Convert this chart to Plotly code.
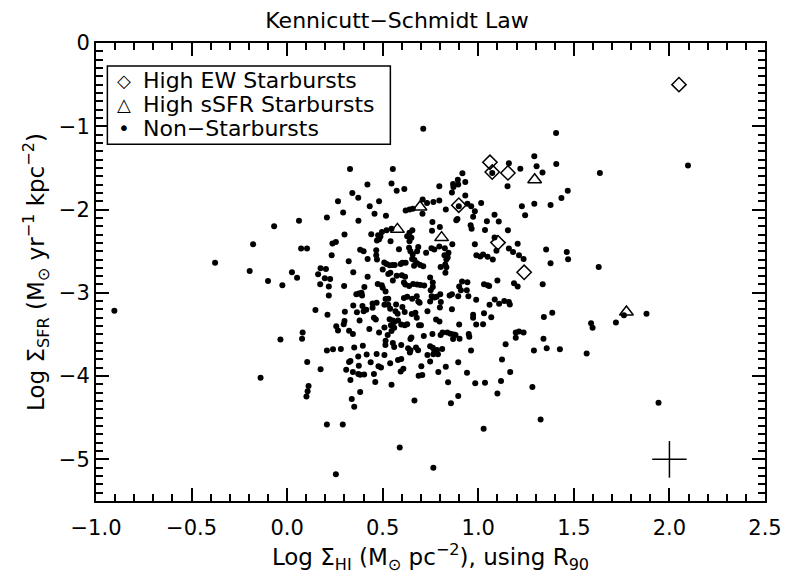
import plotly.graph_objects as go

# High EW starbursts (diamonds)
ew_x = [2.05, 1.061, 1.073, 1.155, 0.898, 1.103, 1.24]
ew_y = [-0.50, -1.432, -1.55, -1.56, -1.948, -2.397, -2.754]

# High sSFR starbursts (triangles)
ss_x = [1.295, 0.695, 0.577, 0.808, 1.775]
ss_y = [-1.643, -1.97, -2.238, -2.337, -3.23]

# Non-starbursts (dots)
ns_pts = [
    (0.712, -1.03), (1.407, -1.08), (2.097, -1.47),
    (1.636, -1.56), (1.468, -1.775), (1.463, -2.51), (1.47, -2.598), (1.63, -2.69),
    (1.59, -3.365), (1.598, -3.42), (1.72, -3.357), (1.762, -3.27), (1.88, -3.25),
    (1.567, -3.73), (1.943, -4.32), (1.326, -4.52),
    (1.16, -1.444), (1.22, -1.51), (1.293, -1.361), (1.305, -1.48), (1.408, -1.452),
    (1.336, -1.556), (1.073, -1.56), (1.153, -1.72), (1.435, -1.86), (1.378, -1.944),
    (1.293, -1.93), (1.228, -1.96), (1.245, -2.07), (0.917, -1.563), (0.893, -1.643),
    (0.895, -1.70), (0.868, -1.694), (0.87, -1.73), (0.862, -1.794), (0.932, -1.67),
    (0.796, -1.72), (0.932, -1.83), (0.613, -1.754), (0.898, -1.96), (0.943, -1.93),
    (0.963, -1.96), (1.015, -1.92), (0.982, -2.02), (0.973, -2.087), (0.96, -2.19),
    (0.965, -2.23), (0.891, -2.115), (0.885, -2.13), (0.83, -2.0), (0.796, -1.89),
    (0.765, -1.908), (0.732, -1.92), (0.709, -1.88), (0.708, -2.05), (0.657, -1.99),
    (0.62, -2.01), (0.64, -2.0), (0.76, -2.15), (0.799, -2.21), (0.758, -2.254),
    (0.655, -2.25), (0.64, -2.28), (0.628, -2.32), (0.65, -2.34), (0.64, -2.38),
    (0.585, -2.476), (0.638, -2.46), (0.645, -2.5), (0.657, -2.54), (0.654, -2.595),
    (0.686, -2.45), (0.68, -2.5), (0.755, -2.464), (0.77, -2.48), (0.796, -2.444),
    (0.825, -2.464), (0.727, -2.52), (0.823, -2.55), (0.844, -2.52), (0.864, -2.417),
    (0.833, -2.6), (0.84, -2.575), (0.603, -2.64), (0.62, -2.64), (0.594, -2.655),
    (0.666, -2.607), (0.68, -2.646), (0.696, -2.667), (0.712, -2.68), (0.664, -2.675),
    (0.803, -2.69), (0.827, -2.66), (0.833, -2.694), (0.828, -2.76), (0.982, -2.417),
    (0.99, -2.55), (1.01, -2.563), (1.025, -2.54), (1.049, -2.568), (1.076, -2.6),
    (1.085, -2.337), (1.095, -2.496), (1.035, -2.246), (1.045, -2.14), (1.085, -2.063),
    (1.107, -2.143), (1.155, -2.25), (1.16, -2.468), (1.182, -2.51), (1.206, -2.41),
    (1.213, -2.55), (1.237, -2.595), (1.355, -2.48), (1.378, -2.646), (1.337, -2.897),
    (1.187, -2.885), (1.206, -2.925), (1.10, -2.853), (1.03, -2.897), (1.049, -2.91),
    (1.057, -2.917), (0.915, -2.865), (0.943, -2.873), (0.90, -2.925), (0.748, -2.817),
    (0.762, -2.877), (0.762, -2.93), (0.717, -2.913), (0.697, -2.905), (0.68, -2.9),
    (0.659, -2.893), (0.638, -2.917), (0.618, -2.9), (0.611, -2.877),
    (0.329, -1.512), (0.553, -1.512), (0.42, -1.70), (0.546, -1.687), (0.573, -1.774),
    (0.341, -1.80), (0.372, -1.857), (0.266, -1.90), (0.481, -1.90), (0.432, -1.96),
    (0.293, -2.036), (0.457, -2.05), (0.517, -2.075), (0.062, -2.135), (0.208, -2.095),
    (0.373, -2.135), (-0.068, -2.2), (0.30, -2.30), (0.44, -2.298), (0.52, -2.25),
    (0.546, -2.23), (0.496, -2.27), (0.476, -2.31), (0.481, -2.357), (0.47, -2.373),
    (0.488, -2.325), (0.541, -2.38), (0.237, -2.408), (0.255, -2.39), (-0.178, -2.417),
    (0.073, -2.468), (0.104, -2.468), (0.233, -2.548), (0.382, -2.484), (0.40, -2.50),
    (0.466, -2.488), (0.322, -2.62), (0.421, -2.595), (0.466, -2.548), (0.47, -2.6),
    (0.508, -2.635), (0.52, -2.655), (0.536, -2.67), (0.553, -2.667), (0.563, -2.667),
    (-0.196, -2.738), (-0.10, -2.857), (-0.025, -2.908), (0.025, -2.754), (0.052, -2.82),
    (0.175, -2.706), (0.203, -2.714), (0.162, -2.777), (0.197, -2.825), (0.225, -2.833),
    (0.173, -2.897), (0.218, -2.925), (0.346, -2.754), (0.421, -2.806), (0.298, -2.917),
    (0.404, -2.929), (0.474, -2.893), (0.495, -2.908), (0.50, -2.94), (0.50, -2.72),
    (0.529, -2.774), (0.54, -2.758), (0.553, -2.853), (0.573, -2.794), (0.60, -2.79),
    (0.617, -2.806),
    (-0.377, -2.639), (-0.904, -3.214),
    (0.218, -3.032), (0.362, -3.016), (0.375, -3.008), (0.389, -3.0), (0.392, -3.032),
    (0.515, -2.984), (0.148, -3.206), (0.211, -3.262), (0.302, -3.226), (0.346, -3.151),
    (0.365, -3.234), (0.394, -3.159), (0.40, -3.222), (0.414, -3.202), (0.447, -3.127),
    (0.468, -3.119), (0.447, -3.179), (0.515, -3.075), (0.529, -3.071), (0.509, -3.143),
    (0.529, -3.143), (0.539, -3.19), (0.57, -3.139), (0.567, -3.222), (0.578, -3.25),
    (0.30, -3.337), (0.257, -3.40), (0.266, -3.452), (0.296, -3.377), (0.324, -3.456),
    (0.344, -3.496), (0.379, -3.333), (0.454, -3.298), (0.464, -3.321), (0.43, -3.433),
    (0.481, -3.476), (0.509, -3.417), (0.536, -3.317), (0.553, -3.333), (0.543, -3.39),
    (0.56, -3.35), (0.58, -3.333), (0.56, -3.42), (0.546, -3.46), (0.526, -3.508),
    (0.515, -3.575), (0.514, -3.627), (0.597, -3.38), (-0.035, -3.56), (0.081, -3.476),
    (0.078, -3.551), (0.208, -3.694), (0.24, -3.679), (0.281, -3.675), (0.351, -3.658),
    (0.396, -3.635), (0.372, -3.766), (0.416, -3.742), (0.468, -3.734), (0.509, -3.746),
    (0.553, -3.603), (0.56, -3.65), (0.597, -3.627), (0.105, -3.83), (0.175, -3.917),
    (0.324, -3.83), (0.331, -3.818), (0.309, -3.925), (0.344, -3.952), (0.375, -3.877),
    (0.372, -3.976), (0.382, -3.984), (0.403, -3.98), (0.437, -3.833), (0.478, -3.881),
    (0.491, -3.897), (0.454, -3.976), (0.461, -4.071), (0.331, -4.048), (0.539, -3.845),
    (0.58, -3.806), (0.597, -3.794), (0.594, -3.944), (0.608, -3.913), (0.546, -4.103),
    (0.112, -4.119), (0.107, -4.183), (0.101, -4.246), (-0.139, -4.02), (0.382, -4.19),
    (0.338, -4.274), (0.351, -4.369), (0.208, -4.58), (0.291, -4.58),
    (0.751, -2.968), (0.801, -3.016), (0.85, -3.032), (0.862, -3.016), (0.909, -2.968),
    (0.94, -2.968), (0.895, -3.04), (0.948, -3.04), (0.611, -3.063), (0.628, -3.048),
    (0.654, -3.071), (0.678, -3.04), (0.686, -3.103), (0.693, -3.119), (0.756, -3.04),
    (0.77, -3.056), (0.782, -3.048), (0.748, -3.103), (0.804, -3.111), (0.799, -3.175),
    (0.603, -3.17), (0.615, -3.23), (0.652, -3.254), (0.671, -3.238), (0.678, -3.298),
    (0.69, -3.389), (0.70, -3.389), (0.734, -3.222), (0.615, -3.389), (0.628, -3.377),
    (0.862, -3.198), (0.779, -3.321), (0.797, -3.345), (0.90, -3.38), (0.989, -3.083),
    (1.059, -3.143), (1.086, -3.08), (1.109, -3.131), (1.136, -3.099), (1.16, -3.111),
    (1.165, -3.139), (1.03, -3.246), (1.068, -3.294), (0.973, -3.262), (0.973, -3.30),
    (0.989, -3.381), (1.025, -3.377), (0.715, -3.52), (0.76, -3.496), (0.803, -3.508),
    (0.813, -3.476), (0.838, -3.476), (0.855, -3.492), (0.873, -3.50), (0.881, -3.508),
    (0.902, -3.551), (0.868, -3.556), (0.95, -3.496), (0.953, -3.528), (0.65, -3.536),
    (0.645, -3.556), (0.633, -3.667), (0.645, -3.69), (0.642, -3.718), (0.674, -3.658),
    (0.685, -3.69), (0.748, -3.643), (0.762, -3.659), (0.77, -3.694), (0.784, -3.687),
    (0.789, -3.738), (0.765, -3.738), (0.734, -3.746), (0.811, -3.675), (0.702, -3.881),
    (0.748, -3.825), (0.688, -3.996), (0.707, -3.988), (0.791, -3.952), (0.83, -3.889),
    (0.895, -3.833), (0.962, -3.694), (0.941, -3.96), (0.842, -4.075), (0.984, -4.087),
    (1.035, -4.079), (0.666, -4.294), (0.857, -4.325), (0.895, -4.238), (1.028, -4.631),
    (1.10, -4.21), (1.119, -4.06), (1.167, -3.952), (1.124, -3.80), (1.143, -3.619),
    (1.283, -4.131), (1.291, -3.694), (1.358, -3.667), (1.427, -3.679), (1.341, -3.551),
    (1.196, -3.476), (1.213, -3.464), (1.237, -3.476), (1.196, -3.54), (1.343, -3.29),
    (1.387, -3.238),
    (0.589, -4.857), (0.765, -5.10), (0.255, -5.179),
]
ns_x = [p[0] for p in ns_pts]
ns_y = [p[1] for p in ns_pts]

# typical error bar
err_x = [2.0]
err_y = [-5.0]
err_dx = [0.09]
err_dy = [0.22]

x_ticks = [-1.0, -0.5, 0.0, 0.5, 1.0, 1.5, 2.0, 2.5]
y_ticks = [0, -1, -2, -3, -4, -5]

legend_labels = ["High EW Starbursts", "High sSFR Starbursts", "Non−Starbursts"]
legend_glyphs = ["◇", "△", "•"]

FONT = "DejaVu Sans"

fig = go.Figure()
fig.add_trace(go.Scatter(
    x=ns_x, y=ns_y, mode="markers", name=legend_labels[2], showlegend=False,
    marker=dict(symbol="circle", size=6, color="black", line=dict(width=0)),
))
fig.add_trace(go.Scatter(
    x=ew_x, y=ew_y, mode="markers", name=legend_labels[0], showlegend=False,
    marker=dict(symbol="diamond-open", size=11, color="black", line=dict(width=1.5, color="black")),
))
fig.add_trace(go.Scatter(
    x=ss_x, y=ss_y, mode="markers", name=legend_labels[1], showlegend=False,
    marker=dict(symbol="triangle-up-open", size=12, color="black", line=dict(width=1.5, color="black")),
))
fig.add_trace(go.Scatter(
    x=err_x, y=err_y, mode="markers", showlegend=False,
    marker=dict(size=1, color="rgba(0,0,0,0)"),
    error_x=dict(type="data", array=err_dx, color="black", thickness=1.5, width=0),
    error_y=dict(type="data", array=err_dy, color="black", thickness=1.5, width=0),
))

axis_common = dict(
    showgrid=False, zeroline=False, showline=True, linecolor="black", linewidth=2,
    mirror="ticks", ticks="inside", ticklen=13, tickwidth=1.5, tickcolor="black",
    tickfont=dict(family=FONT, size=21, color="black"),
)

fig.update_xaxes(
    range=[-1.0, 2.5], tickvals=x_ticks, tickformat=".1f", ticklabelstandoff=7,
    minor=dict(dtick=0.1, ticks="inside", ticklen=7, tickwidth=1.5, tickcolor="black", showgrid=False),
    title=dict(text="Log Σ<sub>HI</sub> (M<sub>⊙</sub> pc<sup>−2</sup>), using R<sub>90</sub>",
               font=dict(family=FONT, size=23, color="black"), standoff=2),
    **axis_common,
)
fig.update_yaxes(
    range=[-5.5, 0.0], tickvals=y_ticks, tickformat="d",
    minor=dict(dtick=0.1, ticks="inside", ticklen=7, tickwidth=1.5, tickcolor="black", showgrid=False),
    title=dict(text="Log Σ<sub>SFR</sub> (M<sub>⊙</sub> yr<sup>−1</sup> kpc<sup>−2</sup>)",
               font=dict(family=FONT, size=23, color="black"), standoff=8),
    **axis_common,
)

# legend box drawn as layout elements
row_y = [0.918, 0.866, 0.814]
glyph_sizes = [18, 18, 20]
annotations = []
for lab, gl, ry, gs in zip(legend_labels, legend_glyphs, row_y, glyph_sizes):
    annotations.append(dict(xref="paper", yref="paper", x=0.042, y=ry, xanchor="center",
                            yanchor="middle", text=gl, showarrow=False,
                            font=dict(family=FONT, size=gs, color="black")))
    annotations.append(dict(xref="paper", yref="paper", x=0.068, y=ry, xanchor="left",
                            yanchor="middle", text=lab, showarrow=False,
                            font=dict(family=FONT, size=22, color="black")))

fig.update_layout(
    width=794, height=576,
    margin=dict(l=96, r=19, t=43, b=75),
    paper_bgcolor="white", plot_bgcolor="white",
    font=dict(family=FONT, color="black"),
    title=dict(text="Kennicutt−Schmidt Law", x=0.5, xanchor="center", y=0.965, yanchor="middle",
               font=dict(family=FONT, size=22, color="black")),
    shapes=[dict(type="rect", xref="paper", yref="paper", x0=0.017, x1=0.44, y0=0.779, y1=0.950,
                 line=dict(color="black", width=1.5), fillcolor="white", layer="above")],
    annotations=annotations,
    showlegend=False,
)

fig.write_html("out.html")
